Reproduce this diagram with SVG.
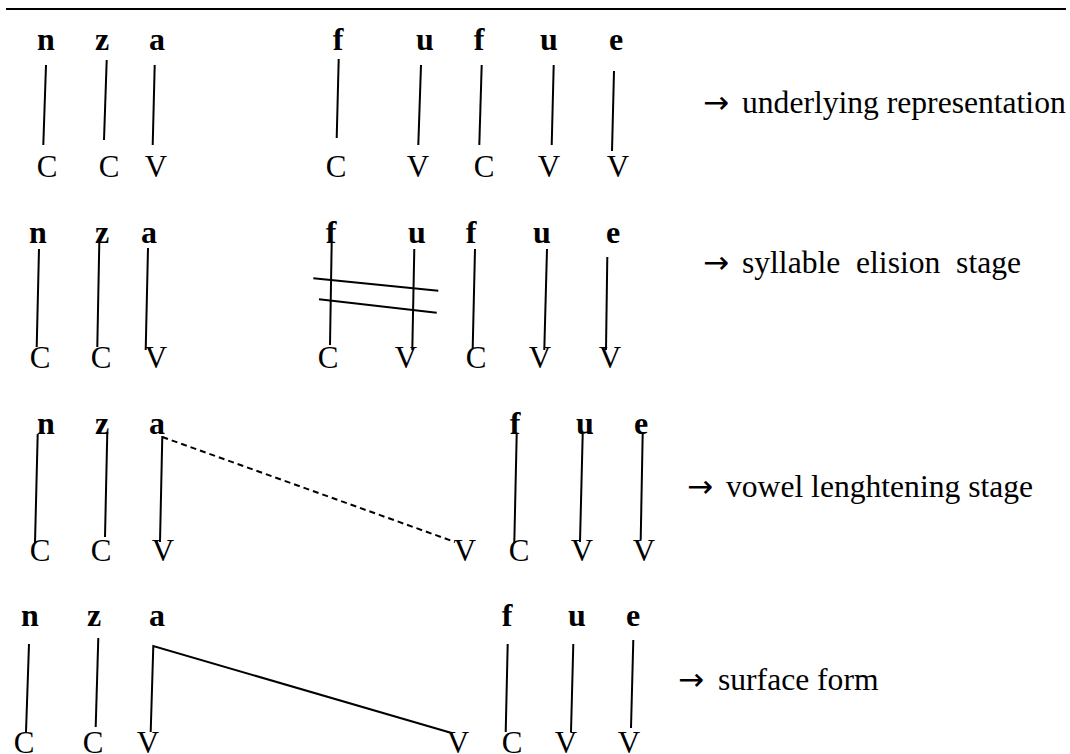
<svg xmlns="http://www.w3.org/2000/svg" width="1070" height="754" viewBox="0 0 1070 754">
<style>
text{font-family:'Liberation Serif','Times New Roman','DejaVu Serif',serif;fill:#000}
.seg{font-size:32px;font-weight:bold;text-anchor:middle}
.cv{font-size:31px;text-anchor:middle}
.lbl{font-size:31.6px}
.arr{font-family:'DejaVu Sans','Liberation Sans',sans-serif;font-size:31px}
.ln{stroke:#000;stroke-width:2;fill:none}
.dash{stroke:#000;stroke-width:2;fill:none;stroke-dasharray:6 4}
</style>
<rect width="1070" height="754" fill="#fff"/>
<line x1="6" y1="9" x2="1066" y2="9" stroke="#000" stroke-width="2"/>

<g id="row1">
<g id="r1-segments">
<text class="seg" x="46" y="50">n</text>
<text class="seg" x="102" y="50">z</text>
<text class="seg" x="157" y="50">a</text>
<text class="seg" x="338" y="50">f</text>
<text class="seg" x="425" y="50">u</text>
<text class="seg" x="479" y="50">f</text>
<text class="seg" x="549" y="50">u</text>
<text class="seg" x="616" y="50">e</text>
</g>
<g id="r1-cv">
<text class="cv" x="47" y="177">C</text>
<text class="cv" x="109" y="177">C</text>
<text class="cv" x="156" y="177">V</text>
<text class="cv" x="336" y="177">C</text>
<text class="cv" x="418" y="177">V</text>
<text class="cv" x="484" y="177">C</text>
<text class="cv" x="549" y="177">V</text>
<text class="cv" x="618" y="177">V</text>
</g>
<text id="r1-label" class="lbl" x="703" y="113"><tspan class="arr">→</tspan><tspan x="742">underlying representation</tspan></text>
</g>

<g id="row2">
<g id="r2-segments">
<text class="seg" x="38" y="243">n</text>
<text class="seg" x="102" y="243">z</text>
<text class="seg" x="149" y="243">a</text>
<text class="seg" x="331" y="243">f</text>
<text class="seg" x="417" y="243">u</text>
<text class="seg" x="471" y="243">f</text>
<text class="seg" x="542" y="243">u</text>
<text class="seg" x="613" y="243">e</text>
</g>
<g id="r2-cv">
<text class="cv" x="40" y="368">C</text>
<text class="cv" x="101" y="368">C</text>
<text class="cv" x="156" y="368">V</text>
<text class="cv" x="328" y="368">C</text>
<text class="cv" x="406" y="368">V</text>
<text class="cv" x="476" y="368">C</text>
<text class="cv" x="540" y="368">V</text>
<text class="cv" x="610" y="368">V</text>
</g>
<text id="r2-label" class="lbl" x="703" y="273" xml:space="preserve"><tspan class="arr">→</tspan><tspan x="742">syllable  elision  stage</tspan></text>
</g>

<g id="row3">
<g id="r3-segments">
<text class="seg" x="46" y="434">n</text>
<text class="seg" x="102" y="434">z</text>
<text class="seg" x="157" y="434">a</text>
<text class="seg" x="515" y="434">f</text>
<text class="seg" x="585" y="434">u</text>
<text class="seg" x="641" y="434">e</text>
</g>
<g id="r3-cv">
<text class="cv" x="40" y="561">C</text>
<text class="cv" x="101" y="561">C</text>
<text class="cv" x="163" y="561">V</text>
<text class="cv" x="465" y="561">V</text>
<text class="cv" x="519" y="561">C</text>
<text class="cv" x="582" y="561">V</text>
<text class="cv" x="644" y="561">V</text>
</g>
<text id="r3-label" class="lbl" x="687" y="497"><tspan class="arr">→</tspan><tspan x="726">vowel lenghtening stage</tspan></text>
</g>

<g id="row4">
<g id="r4-segments">
<text class="seg" x="30" y="626">n</text>
<text class="seg" x="94" y="626">z</text>
<text class="seg" x="157" y="626">a</text>
<text class="seg" x="507" y="626">f</text>
<text class="seg" x="577" y="626">u</text>
<text class="seg" x="633" y="626">e</text>
</g>
<g id="r4-cv">
<text class="cv" x="24" y="753">C</text>
<text class="cv" x="93" y="753">C</text>
<text class="cv" x="148" y="753">V</text>
<text class="cv" x="458" y="753">V</text>
<text class="cv" x="512" y="753">C</text>
<text class="cv" x="566" y="753">V</text>
<text class="cv" x="629" y="753">V</text>
</g>
<text id="r4-label" class="lbl" x="678" y="690"><tspan class="arr">→</tspan><tspan x="718">surface form</tspan></text>
</g>

<g id="connectors">
<line class="ln" x1="46" y1="65" x2="43.3" y2="145"/>
<line class="ln" x1="106.7" y1="60" x2="104" y2="140"/>
<line class="ln" x1="154.7" y1="65" x2="152.7" y2="145"/>
<line class="ln" x1="338.7" y1="59" x2="336.7" y2="138"/>
<line class="ln" x1="421" y1="65" x2="418.3" y2="145"/>
<line class="ln" x1="481.7" y1="65" x2="479.3" y2="145"/>
<line class="ln" x1="553.7" y1="65" x2="551.7" y2="145"/>
<line class="ln" x1="614" y1="71" x2="612" y2="151"/>

<line class="ln" x1="39" y1="249" x2="36.7" y2="347"/>
<line class="ln" x1="99.3" y1="242" x2="97.3" y2="347"/>
<line class="ln" x1="148" y1="248" x2="145.7" y2="350"/>
<line class="ln" x1="331.7" y1="242" x2="330" y2="345"/>
<line class="ln" x1="414.3" y1="249" x2="412.3" y2="350"/>
<line class="ln" x1="475" y1="249" x2="472.7" y2="348"/>
<line class="ln" x1="547" y1="249" x2="544.3" y2="350"/>
<line class="ln" x1="607.3" y1="257" x2="606" y2="350"/>
<line class="ln" x1="313.3" y1="278.3" x2="438.3" y2="290.7"/>
<line class="ln" x1="319" y1="299.3" x2="436.7" y2="312.7"/>

<line class="ln" x1="37.7" y1="434" x2="35" y2="543"/>
<line class="ln" x1="107.3" y1="432" x2="105" y2="537"/>
<line class="ln" x1="162.3" y1="436" x2="160" y2="542"/>
<line class="dash" x1="162.3" y1="437" x2="455" y2="542"/>
<line class="ln" x1="516.7" y1="434" x2="514.3" y2="543"/>
<line class="ln" x1="582.7" y1="434" x2="580" y2="542"/>
<line class="ln" x1="642.7" y1="433" x2="640.7" y2="540"/>

<line class="ln" x1="29" y1="644" x2="26" y2="732"/>
<line class="ln" x1="98.3" y1="638" x2="95.7" y2="727"/>
<polyline class="ln" points="150.7,732 153.3,646 451.7,733"/>
<line class="ln" x1="507.7" y1="644" x2="505.7" y2="732"/>
<line class="ln" x1="573.3" y1="644" x2="571" y2="732"/>
<line class="ln" x1="633.3" y1="640" x2="631" y2="728"/>
</g>
</svg>
